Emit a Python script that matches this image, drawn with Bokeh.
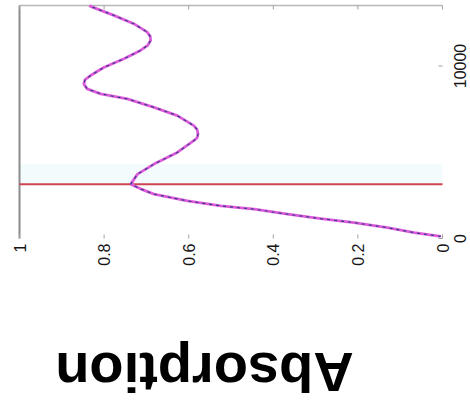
import numpy as np
from bokeh.plotting import figure
from bokeh.models import Range1d, BoxAnnotation
from bokeh.core.properties import value
from bokeh.embed import file_html
from bokeh.resources import INLINE

# Absorption coefficient versus frequency (Hz)
freq_hz = [120, 337, 628, 919, 1151, 1407, 1698, 1890, 2180, 2570,
           2878, 3151, 3733, 4314, 4988, 5669, 5843, 6058, 6308, 6541,
           7122, 7605, 8093, 8384, 8674, 8965, 9215, 9448, 9913, 10419,
           10901, 11192, 11483, 11715, 11965, 12453, 12936, 13459, 13507]
absorption = [0.004, 0.067, 0.130, 0.209, 0.288, 0.366, 0.445, 0.524, 0.603, 0.682,
              0.714, 0.737, 0.721, 0.682, 0.627, 0.588, 0.580, 0.578, 0.580, 0.588,
              0.627, 0.682, 0.745, 0.808, 0.840, 0.848, 0.845, 0.832, 0.801, 0.753,
              0.714, 0.697, 0.690, 0.691, 0.698, 0.730, 0.777, 0.832, 0.835]

# marker frequency (red line) and the light band just above it
resonance_hz = 3151
band_top_hz = 4300

abs_ticks = [0, 0.2, 0.4, 0.6, 0.8, 1]
abs_tick_labels = ["0", "0.2", "0.4", "0.6", "0.8", "1"]
freq_ticks = [0, 10000]
freq_tick_labels = ["0", "10000"]

FONT = "Liberation Sans"
W, H = 470, 410

# screen placement of the plotting box (absorption runs right-to-left,
# frequency runs bottom-to-top)
X_A1, X_A0 = 19.0, 442.0      # x of absorption 1 and 0
Y_F0, Y_F10K = 238.0, 65.5    # y (from top) of 0 Hz and 10000 Hz
Y_TOP = 5.0                   # upper edge of the box
px_per_abs = X_A0 - X_A1
px_per_hz = (Y_F0 - Y_F10K) / 10000.0


def a_at(sx):
    return 1.0 - (sx - X_A1) / px_per_abs


def f_at(sy):
    return (Y_F0 - sy) / px_per_hz


F_TOP = f_at(Y_TOP)
TICK = 4.0

p = figure(width=W, height=H, output_backend="svg", toolbar_location=None,
           x_range=Range1d(a_at(0), a_at(W)), y_range=Range1d(f_at(H), f_at(0)),
           x_axis_location=None, y_axis_location=None, min_border=0,
           outline_line_color=None,
           background_fill_color="white", border_fill_color="white")
p.grid.visible = False

# faint band above the marker frequency
p.add_layout(BoxAnnotation(left=min(abs_ticks), right=max(abs_ticks),
                           bottom=resonance_hz, top=band_top_hz,
                           fill_color="#e6f6fb", fill_alpha=0.45,
                           line_color=None, level="underlay"))

# box edges: left (absorption = 1) and top
p.segment(x0=[max(abs_ticks)], y0=[0], x1=[max(abs_ticks)], y1=[F_TOP],
          line_color="#8c8c8c", line_width=2)
p.segment(x0=[max(abs_ticks)], y0=[F_TOP], x1=[min(abs_ticks)], y1=[F_TOP],
          line_color="#b8b8b8", line_width=1.5)

# inward tick marks
tick_hz = TICK / px_per_hz
tick_abs = TICK / px_per_abs
p.segment(x0=abs_ticks, y0=[F_TOP] * len(abs_ticks), x1=abs_ticks,
          y1=[F_TOP - tick_hz] * len(abs_ticks), line_color="#a0a0a0", line_width=1)
p.segment(x0=abs_ticks, y0=[0] * len(abs_ticks), x1=abs_ticks,
          y1=[tick_hz] * len(abs_ticks), line_color="#a0a0a0", line_width=1)
p.segment(x0=[0] * len(freq_ticks), y0=freq_ticks, x1=[tick_abs] * len(freq_ticks),
          y1=freq_ticks, line_color="#a0a0a0", line_width=1)

# marker frequency
p.segment(x0=[max(abs_ticks)], y0=[resonance_hz], x1=[min(abs_ticks)],
          y1=[resonance_hz], line_color="#cf4452", line_width=2)

# absorption curve: solid magenta with a dashed dark trace over it
p.line(absorption, freq_hz, line_color="#dc5cdc", line_width=2.8)
p.line(absorption, freq_hz, line_color="#3a3a88", line_width=1.2, line_dash="3 4")

# tick labels, turned to read upward
p.text(x=abs_ticks, y=[f_at(Y_F0 + 5)] * len(abs_ticks), text=abs_tick_labels,
       angle=np.pi / 2, text_align="right", text_baseline="middle",
       text_font=value(FONT), text_font_size="16px", text_color="#151515")
p.text(x=[a_at(X_A0 + 17)] * len(freq_ticks), y=freq_ticks, text=freq_tick_labels,
       angle=np.pi / 2, text_align="center", text_baseline="middle",
       text_font=value(FONT), text_font_size="16px", text_color="#151515")

# axis title
p.text(x=[a_at(204)], y=[f_at(372)], text=["Absorption"], angle=np.pi,
       text_align="center", text_baseline="middle",
       text_font=value(FONT), text_font_size="56px", text_font_style="bold",
       text_color="black")

open("out.html", "w").write(file_html(p, INLINE))
